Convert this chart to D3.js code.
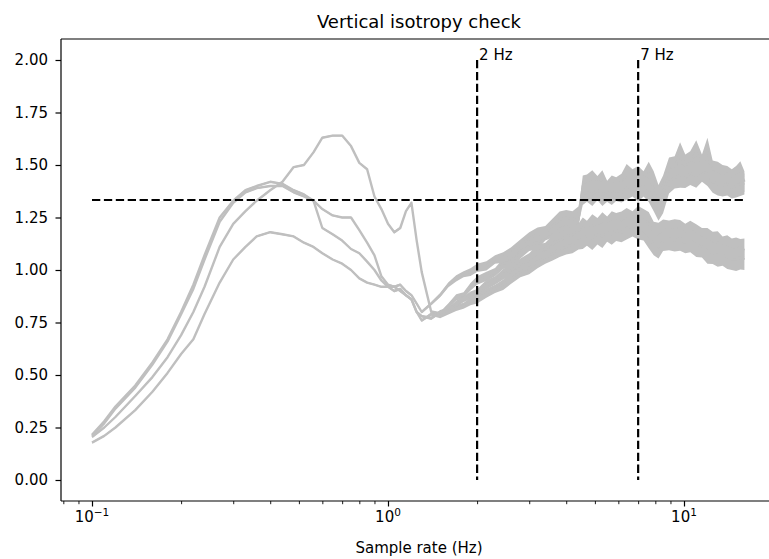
<!DOCTYPE html>
<html>
<head>
<meta charset="utf-8">
<script src="https://cdn.jsdelivr.net/npm/d3@7"></script>
<style>
  html, body { margin: 0; padding: 0; background: #fff; }
  svg { display: block; font-family: "DejaVu Sans", sans-serif; }
</style>
</head>
<body>
<svg id="chart" width="769" height="559"></svg>
<script>
// ---------- data ----------
const titleText = "Vertical isotropy check";
const xLabelText = "Sample rate (Hz)";

const freq = [0.1, 0.11, 0.12, 0.14, 0.16, 0.18, 0.2, 0.22, 0.24, 0.27,
              0.3, 0.33, 0.36, 0.4, 0.44, 0.48, 0.52, 0.56, 0.6, 0.65,
              0.7, 0.75, 0.8, 0.85, 0.9, 0.95, 1.0, 1.05, 1.1, 1.15,
              1.2, 1.25, 1.3,
              1.4, 1.5, 1.6, 1.7, 1.8, 1.9, 2.0, 2.15, 2.3, 2.45,
              2.6, 2.8, 3.0, 3.2, 3.4, 3.6, 3.8, 4.0, 4.2, 4.4,
              4.55, 4.7, 4.9, 5.1, 5.3, 5.5, 5.7, 5.9, 6.15, 6.4,
              6.7, 7.0, 7.3, 7.6, 7.9, 8.2, 8.5, 8.9, 9.3, 9.7,
              10.1, 10.5, 11.0, 11.5, 12.0, 12.5, 13.0, 13.5, 14.0, 14.5,
              15.0, 15.5, 16.0];

const curveA = [0.205, 0.25, 0.30, 0.40, 0.49, 0.585, 0.69, 0.80, 0.92, 1.11,
                1.22, 1.28, 1.33, 1.38, 1.42, 1.49, 1.50, 1.56, 1.63, 1.64,
                1.64, 1.59, 1.51, 1.48, 1.35, 1.29, 1.22, 1.18, 1.20, 1.28,
                1.32, 1.14, 0.99,
                0.80, 0.79, 0.83, 0.87, 0.88, 0.92, 0.95, 0.97, 0.99, 1.03,
                1.04, 1.08, 1.12, 1.13, 1.17, 1.19, 1.20, 1.22, 1.21, 1.24,
                1.40, 1.41, 1.42, 1.40, 1.42, 1.38, 1.40, 1.39, 1.41, 1.45,
                1.43, 1.44, 1.42, 1.46, 1.42, 1.35, 1.40, 1.48, 1.49, 1.55,
                1.50, 1.51, 1.56, 1.50, 1.57, 1.47, 1.46, 1.45, 1.44, 1.43,
                1.44, 1.46, 1.42];

const curveB = [0.215, 0.28, 0.35, 0.45, 0.56, 0.67, 0.80, 0.93, 1.07, 1.25,
                1.33, 1.38, 1.40, 1.42, 1.41, 1.38, 1.36, 1.33, 1.29, 1.26,
                1.25, 1.25, 1.19, 1.13, 1.07, 0.97, 0.93, 0.92, 0.93, 0.90,
                0.88, 0.84, 0.80,
                0.84, 0.88, 0.93, 0.96, 0.98, 0.99, 1.01, 1.02, 1.05, 1.06,
                1.08, 1.12, 1.15, 1.17, 1.18, 1.21, 1.24, 1.25, 1.24, 1.26,
                1.36, 1.37, 1.36, 1.38, 1.36, 1.37, 1.36, 1.38, 1.37, 1.39,
                1.40, 1.38, 1.40, 1.38, 1.33, 1.29, 1.32, 1.42, 1.44, 1.45,
                1.44, 1.46, 1.45, 1.47, 1.46, 1.42, 1.41, 1.40, 1.41, 1.39,
                1.40, 1.41, 1.41];

const curveC = [0.21, 0.27, 0.34, 0.44, 0.55, 0.66, 0.79, 0.91, 1.05, 1.23,
                1.32, 1.37, 1.39, 1.40, 1.40, 1.37, 1.35, 1.33, 1.20, 1.17,
                1.14, 1.10, 1.08, 1.04, 1.00, 0.95, 0.92, 0.90, 0.91, 0.88,
                0.86, 0.80, 0.78,
                0.77, 0.80, 0.81, 0.84, 0.86, 0.88, 0.89, 0.93, 0.95, 0.98,
                1.00, 1.03, 1.05, 1.09, 1.10, 1.13, 1.14, 1.16, 1.17, 1.18,
                1.20, 1.19, 1.21, 1.20, 1.22, 1.21, 1.23, 1.22, 1.23, 1.24,
                1.23, 1.25, 1.24, 1.22, 1.18, 1.17, 1.19, 1.18, 1.19, 1.18,
                1.17, 1.18, 1.16, 1.15, 1.14, 1.13, 1.13, 1.11, 1.11, 1.10,
                1.10, 1.09, 1.10];

const curveD = [0.178, 0.21, 0.25, 0.333, 0.42, 0.51, 0.60, 0.67, 0.79, 0.94,
                1.05, 1.11, 1.16, 1.18, 1.17, 1.16, 1.13, 1.11, 1.08, 1.05,
                1.03, 1.00, 0.96, 0.94, 0.93, 0.92, 0.92, 0.92, 0.90, 0.88,
                0.86, 0.80, 0.76,
                0.79, 0.78, 0.80, 0.82, 0.83, 0.85, 0.86, 0.89, 0.91, 0.93,
                0.96, 0.99, 1.01, 1.04, 1.06, 1.08, 1.10, 1.11, 1.12, 1.14,
                1.15, 1.16, 1.15, 1.17, 1.16, 1.18, 1.17, 1.19, 1.18, 1.20,
                1.21, 1.20, 1.19, 1.16, 1.12, 1.11, 1.14, 1.15, 1.14, 1.15,
                1.13, 1.14, 1.12, 1.11, 1.09, 1.08, 1.07, 1.07, 1.06, 1.05,
                1.05, 1.06, 1.05];

// half-width of the noisy band around each curve
const noiseHalf = [0.004, 0.004, 0.004, 0.004, 0.004, 0.004, 0.004, 0.004, 0.004, 0.004,
                   0.004, 0.004, 0.004, 0.004, 0.004, 0.004, 0.004, 0.004, 0.004, 0.004,
                   0.004, 0.004, 0.004, 0.004, 0.004, 0.004, 0.004, 0.006, 0.006, 0.006,
                   0.006, 0.006, 0.006,
                   0.008, 0.010, 0.012, 0.015, 0.014, 0.018, 0.020, 0.022, 0.020, 0.025,
                   0.027, 0.025, 0.030, 0.032, 0.030, 0.035, 0.038, 0.036, 0.040, 0.042,
                   0.050, 0.045, 0.055, 0.048, 0.055, 0.045, 0.050, 0.052, 0.048, 0.055,
                   0.050, 0.055, 0.050, 0.056, 0.050, 0.055, 0.050, 0.056, 0.052, 0.058,
                   0.050, 0.055, 0.058, 0.050, 0.060, 0.052, 0.055, 0.050, 0.055, 0.050,
                   0.055, 0.058, 0.050];

const isotropyLevel = 4 / 3;
const markerFreqs = [2, 7];
const markerLabels = ["2 Hz", "7 Hz"];
const markerTop = 2.0;
const markerBottom = 0.0;

const yTicks = [0.00, 0.25, 0.50, 0.75, 1.00, 1.25, 1.50, 1.75, 2.00];
const xMajorTicks = [0.1, 1, 10];
const xMajorExponents = ["\u22121", "0", "1"];
const xMinorTicks = [0.08, 0.09, 0.2, 0.3, 0.4, 0.5, 0.6, 0.7, 0.8, 0.9,
                     2, 3, 4, 5, 6, 7, 8, 9, 20];

// ---------- layout ----------
const svg = d3.select("#chart");
const W = 769, H = 559;
const plot = { left: 61, right: 777, top: 39, bottom: 501 };

svg.append("rect").attr("width", W).attr("height", H).attr("fill", "#fff");

const x = d3.scaleLog()
  .domain([Math.pow(10, -1 - 31 / 296), Math.pow(10, 1 + 93 / 296)])
  .range([plot.left, plot.right]);
const y = d3.scaleLinear().domain([-0.1, 2.1]).range([plot.bottom, plot.top]);

const g = svg.append("g");

// curves
const gray = "#bfbfbf";
const curves = [curveA, curveB, curveC, curveD];
const area = d3.area()
  .x(d => x(d.f)).y0(d => y(d.v - d.n)).y1(d => y(d.v + d.n));
const line = d3.line().x(d => x(d.f)).y(d => y(d.v));
curves.forEach(c => {
  const data = freq.map((f, i) => ({ f: f, v: c[i], n: noiseHalf[i] }));
  g.append("path").attr("d", area(data)).attr("fill", gray).attr("stroke", "none");
  g.append("path").attr("d", line(data)).attr("fill", "none")
    .attr("stroke", gray).attr("stroke-width", 2.4).attr("stroke-linejoin", "round");
});

// dashed reference lines
const dash = "8.3,3.6";
g.append("line")
  .attr("x1", x(freq[0])).attr("x2", x(freq[freq.length - 1]))
  .attr("y1", y(isotropyLevel)).attr("y2", y(isotropyLevel))
  .attr("stroke", "#000").attr("stroke-width", 2.2).attr("stroke-dasharray", dash);
markerFreqs.forEach((f, i) => {
  g.append("line")
    .attr("x1", x(f)).attr("x2", x(f))
    .attr("y1", y(markerTop)).attr("y2", y(markerBottom))
    .attr("stroke", "#000").attr("stroke-width", 2.2).attr("stroke-dasharray", dash);
  g.append("text")
    .attr("x", x(f) + 2).attr("y", y(markerTop))
    .attr("font-size", 15).attr("fill", "#000")
    .text(markerLabels[i]);
});

// spines
const spineColor = "#000", spineW = 1.2;
[[plot.left, plot.top, plot.left, plot.bottom],
 [plot.left, plot.top, plot.right, plot.top],
 [plot.left, plot.bottom, plot.right, plot.bottom],
 [plot.right, plot.top, plot.right, plot.bottom]].forEach(s => {
  g.append("line").attr("x1", s[0]).attr("y1", s[1]).attr("x2", s[2]).attr("y2", s[3])
    .attr("stroke", spineColor).attr("stroke-width", spineW);
});

// y axis
const yAxis = d3.axisLeft(y).tickValues(yTicks).tickFormat(d3.format(".2f"))
  .tickSize(5.5).tickPadding(7.5).tickSizeOuter(0);
const yg = svg.append("g").attr("transform", `translate(${plot.left},0)`).call(yAxis);
yg.select(".domain").remove();
yg.selectAll("line").attr("stroke", "#000").attr("stroke-width", 1.2);
yg.selectAll("text").attr("font-size", 15).attr("fill", "#000")
  .attr("font-family", "DejaVu Sans, sans-serif");

// x axis: major and minor ticks
const xgMaj = svg.append("g").attr("transform", `translate(0,${plot.bottom})`)
  .call(d3.axisBottom(x).tickValues(xMajorTicks).tickFormat("").tickSize(5.5).tickSizeOuter(0));
xgMaj.select(".domain").remove();
xgMaj.selectAll("line").attr("stroke", "#000").attr("stroke-width", 1.2);
const xgMin = svg.append("g").attr("transform", `translate(0,${plot.bottom})`)
  .call(d3.axisBottom(x).tickValues(xMinorTicks).tickFormat("").tickSize(3.2).tickSizeOuter(0));
xgMin.select(".domain").remove();
xgMin.selectAll("line").attr("stroke", "#000").attr("stroke-width", 0.9);

xMajorTicks.forEach((v, i) => {
  const t = svg.append("text")
    .attr("x", x(v)).attr("y", plot.bottom + 21)
    .attr("text-anchor", "middle").attr("font-size", 15).attr("fill", "#000");
  t.append("tspan").text("10");
  t.append("tspan").attr("dy", -6).attr("font-size", 10.5).text(xMajorExponents[i]);
});

// labels
svg.append("text").attr("x", (plot.left + plot.right) / 2).attr("y", 553)
  .attr("text-anchor", "middle").attr("font-size", 15).attr("fill", "#000").text(xLabelText);
svg.append("text").attr("x", (plot.left + plot.right) / 2).attr("y", 27.5)
  .attr("text-anchor", "middle").attr("font-size", 18).attr("fill", "#000").text(titleText);
</script>
</body>
</html>
